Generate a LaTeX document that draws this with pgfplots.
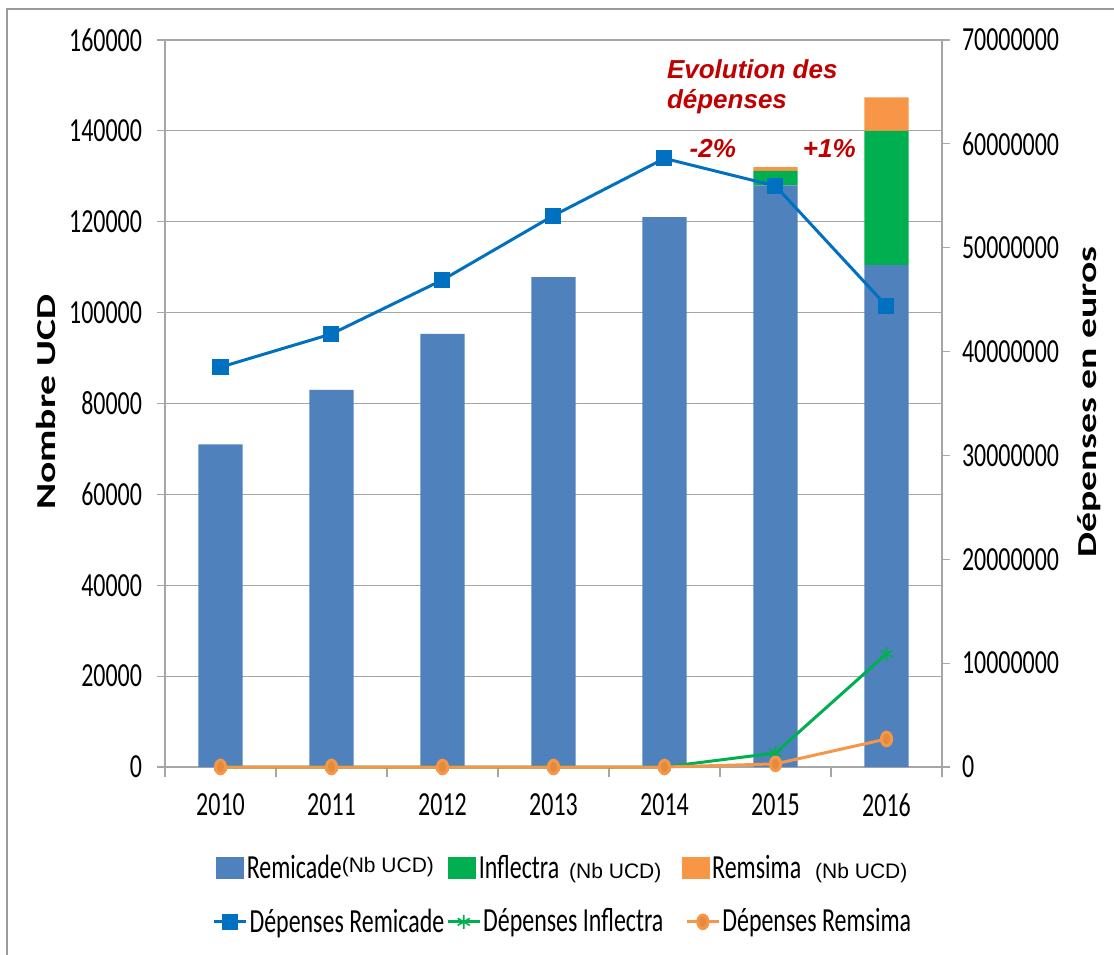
\documentclass[border=0pt]{standalone}
\usepackage{fontspec}
\setmainfont[FakeStretch=0.71]{Carlito}
\newfontfamily\labfont[FakeStretch=1.45]{Carlito}
\newfontfamily\arialfont{Liberation Sans}
\usepackage{pgfplots}
\pgfplotsset{compat=1.18}
\definecolor{cblue}{HTML}{4F81BD}
\definecolor{cgreen}{HTML}{00B050}
\definecolor{corange}{HTML}{F79646}
\definecolor{lblue}{HTML}{0070C0}
\definecolor{dred}{HTML}{C00000}
\definecolor{gridgray}{HTML}{A6A6A6}
\definecolor{omark}{HTML}{E38B3C}
\newcommand\tickfont{\fontsize{16.85pt}{20pt}\selectfont}
\newcommand\nbucd{\arialfont\fontsize{10.5pt}{12pt}\selectfont (Nb UCD)}
\pgfplotsset{
  barlegend/.style={legend image code/.code={\fill[##1] (0pt,-5.5pt) rectangle (14pt,5.5pt);}},
  linelegend/.style={legend image code/.code={\draw[mark repeat=2,mark phase=2,##1] plot coordinates {(0pt,0pt) (8pt,0pt) (16pt,0pt)};}},
}
\begin{document}
\begin{tikzpicture}
\useasboundingbox (-82.5pt,-93.5pt) rectangle (474.5pt,383.5pt);
\draw[gray!80, line width=1pt] (-79pt,-120pt) -- (-79pt,379pt) -- (500pt,379pt);
\pgfplotsset{
  every axis/.append style={
    scale only axis, width=388.5pt, height=363.5pt,
    xmin=-0.5, xmax=6.5,
    /pgf/number format/assume math mode=true,
    tick label style={font=\tickfont},
    axis line style={gridgray, line width=0.6pt},
    tick style={gridgray, line width=0.6pt},
    tick align=outside,
    major tick length=4pt,
  },
}
\begin{axis}[
  ymin=0, ymax=160000,
  ybar stacked, bar width=0.4,
  axis y line*=left, axis x line*=bottom,
  xtick={0,1,2,3,4,5,6},
  xticklabels={2010,2011,2012,2013,2014,2015,2016},
  xticklabel style={yshift=-6pt},
  major x tick style={draw=none},
  minor xtick={-0.5,0.5,1.5,2.5,3.5,4.5,5.5,6.5},
  minor tick length=5pt,
  minor x tick style={gridgray, line width=0.6pt},
  ytick={0,20000,40000,60000,80000,100000,120000,140000,160000},
  yticklabel style={/pgf/number format/fixed, /pgf/number format/1000 sep={}, xshift=-4pt},
  scaled y ticks=false,
  ymajorgrids, grid style={gridgray, line width=0.6pt},
  ylabel={Nombre UCD},
  ylabel style={font=\labfont\bfseries\fontsize{13.7pt}{16pt}\selectfont, at={(axis description cs:-0.153,0.502)}, anchor=center},
  legend columns=-1,
  legend style={at={(axis description cs:0.058,-0.139)}, anchor=west, draw=none, fill=none,
    font=\tickfont, /tikz/every even column/.append style={column sep=6pt},
    nodes={inner xsep=1.2pt}},
]
\addplot+[fill=cblue, draw=none, barlegend] coordinates {(0,71000) (1,83000) (2,95300) (3,107800) (4,121000) (5,128000) (6,110500)};
\addlegendentry{Remicade\raisebox{3pt}{\nbucd}}
\addplot+[fill=cgreen, draw=none, barlegend] coordinates {(0,0) (1,0) (2,0) (3,0) (4,0) (5,3200) (6,29500)};
\addlegendentry{Inflectra\hspace{5pt}\nbucd\kern3pt}
\addplot+[fill=corange, draw=none, barlegend] coordinates {(0,0) (1,0) (2,0) (3,0) (4,0) (5,800) (6,7400)};
\addlegendentry{Remsima\hspace{7pt}\nbucd}
\end{axis}
\begin{axis}[
  ymin=0, ymax=70000000,
  axis y line*=right, axis x line=none,
  ytick={0,10000000,20000000,30000000,40000000,50000000,60000000,70000000},
  scaled y ticks=false,
  yticklabel style={/pgf/number format/fixed, /pgf/number format/1000 sep={}, xshift=2.5pt},
  ylabel={Dépenses en euros},
  ylabel style={font=\labfont\bfseries\fontsize{13.7pt}{16pt}\selectfont, at={(axis description cs:1.19,0.502)}, anchor=center},
  clip=false,
  legend columns=-1,
  legend style={at={(axis description cs:0.053,-0.213)}, anchor=west, draw=none, fill=none,
    font=\tickfont, /tikz/every even column/.append style={column sep=0pt},
    nodes={inner xsep=1pt}},
  linelegend,
]
\addplot[lblue, line width=1.5pt, mark=square*, mark size=3.25pt, mark options={solid}] coordinates {(0,38500000) (1,41700000) (2,46900000) (3,53100000) (4,58600000) (5,55950000) (6,44400000)};
\addlegendentry{Dépenses Remicade}
\addplot[cgreen, line width=1.5pt, mark=asterisk, mark size=3.5pt, mark options={line width=0.8pt}] coordinates {(0,0) (1,0) (2,0) (3,0) (4,0) (5,1350000) (6,10900000)};
\addlegendentry{Dépenses Inflectra\kern10pt}
\addplot[corange, line width=1.5pt, mark=*, mark size=3.4pt, mark options={fill=omark, draw=corange, xscale=0.75}] coordinates {(0,0) (1,0) (2,0) (3,0) (4,0) (5,300000) (6,2700000)};
\addlegendentry{Dépenses Remsima}
\node[anchor=west, align=left, text=dred, font=\arialfont\bfseries\itshape\fontsize{13pt}{15pt}\selectfont] at (rel axis cs:0.637,0.935) {Evolution des\\dépenses};
\node[text=dred, font=\arialfont\bfseries\itshape\fontsize{13pt}{15pt}\selectfont] at (rel axis cs:0.705,0.851) {-2\%};
\node[text=dred, font=\arialfont\bfseries\itshape\fontsize{13pt}{15pt}\selectfont] at (rel axis cs:0.855,0.851) {+1\%};
\end{axis}
\end{tikzpicture}
\end{document}
